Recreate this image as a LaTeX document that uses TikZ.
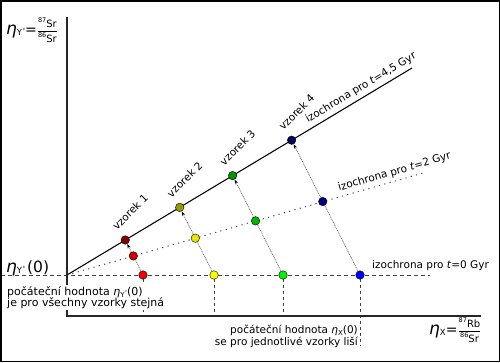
\documentclass[tikz,border=0pt]{standalone}
\usepackage{fontspec}
\setmainfont{DejaVu Sans}
\usetikzlibrary{arrows.meta,calc,backgrounds}
\definecolor{ra}{HTML}{F00000}
\definecolor{rb}{HTML}{D40000}
\definecolor{rc}{HTML}{800000}
\definecolor{ya}{HTML}{FFFF00}
\definecolor{yb}{HTML}{E6E600}
\definecolor{yc}{HTML}{999900}
\definecolor{ga}{HTML}{00F000}
\definecolor{gb}{HTML}{00B400}
\definecolor{gc}{HTML}{009600}
\definecolor{ba}{HTML}{0000FF}
\definecolor{bb}{HTML}{000080}
\definecolor{bc}{HTML}{00005A}
\newcommand\mysub[2][7]{\raisebox{-0.35ex}{\fontsize{#1}{#1}\selectfont #2}}
\newcommand\myprime{\kern0.6pt\raisebox{0.35ex}{\textquotesingle}}
\newcommand\myiso[2]{\hbox{\fontsize{10}{10}\selectfont\raisebox{0.9ex}{\fontsize{6.5}{6.5}\selectfont #1}#2}}
\newcommand\myratio[4]{$\displaystyle\frac{\myiso{#1}{#2}}{\myiso{#3}{#4}}$}
\begin{document}
\begin{tikzpicture}[x=1pt,y=-1pt,
  samp/.style={circle,draw=black,line width=0.4pt,inner sep=0pt,minimum size=8.5pt},
  conn/.style={draw=black!60,line width=0.7pt,dash pattern=on 1pt off 0.8pt,-{Stealth[length=4.5pt,width=3.2pt,black]}},
  vdash/.style={draw=black!75,line width=0.6pt,dash pattern=on 3pt off 3pt},
  body/.style={font=\fontsize{10.5}{11.5}\selectfont,inner sep=0pt},
  lab/.style={body,rotate=45,anchor=south west}]
\useasboundingbox (0,0) rectangle (500,362);
% frame
\draw[line width=1.5pt] (0.75,0.75) rectangle (499.25,361.25);
% coordinates
\coordinate (O) at (67,275);
\coordinate (ytop) at (67,17);
\coordinate (corner) at (67,316);
\coordinate (xend) at (481,316);
\coordinate (e45) at (412,68);
\coordinate (e2) at (423,173);
\coordinate (h0) at (1,275);
\coordinate (h1) at (430,275);
\coordinate (dlow) at (360,346);
\coordinate (a0) at (143,275);
\coordinate (b0) at (214,275);
\coordinate (c0) at (283,275);
\coordinate (d0) at (360,275);
\coordinate (a45) at (125.25,240.0);
\coordinate (b45) at (179.7,207.4);
\coordinate (c45) at (232.6,175.6);
\coordinate (d45) at (291.6,140.2);
% axes
\draw[line width=1.2pt,black!85] (ytop) -- (corner) -- (xend);
% sample points
\node[samp,fill=ra] (A0) at (a0) {};
\node[samp,fill=ya] (B0) at (b0) {};
\node[samp,fill=ga] (C0) at (c0) {};
\node[samp,fill=ba] (D0) at (d0) {};
\node[samp,fill=rb] (A2) at ($(a0)!0.545!(a45)$) {};
\node[samp,fill=yb] (B2) at ($(b0)!0.545!(b45)$) {};
\node[samp,fill=gb] (C2) at ($(c0)!0.545!(c45)$) {};
\node[samp,fill=bb] (D2) at ($(d0)!0.545!(d45)$) {};
\node[samp,fill=rc] (A45) at (a45) {};
\node[samp,fill=yc] (B45) at (b45) {};
\node[samp,fill=gc] (C45) at (c45) {};
\node[samp,fill=bc] (D45) at (d45) {};
% labels
\node[lab] (LA) at ($(a45)+(-8,-9)$) {vzorek 1};
\node[lab] (LB) at ($(b45)+(-8,-9)$) {vzorek 2};
\node[lab] (LC) at ($(c45)+(-8,-9)$) {vzorek 3};
\node[lab] (LD) at ($(d45)+(-8,-9)$) {vzorek 4};
\node[body,anchor=base west] (T0) at (372,268) {izochrona pro \textit{t}=0 Gyr};
\node[body,rotate=16,anchor=base west] (T2) at (339,191) {izochrona pro \textit{t}=2 Gyr};
\node[body,rotate=31,anchor=base west] (T45) at (308,123) {izochrona pro \textit{t}=4,5 Gyr};
\node[anchor=base west,inner sep=0pt] (YL) at (6,34) {{\fontsize{17}{17}\selectfont\itshape η}\mysub[8.5]{Y\myprime}{\fontsize{14}{14}\selectfont=}\myratio{87}{Sr}{86}{Sr}};
\node[anchor=base west,inner sep=0pt] (XL) at (429,334) {{\fontsize{17}{17}\selectfont\itshape η}\mysub[8.5]{X}{\fontsize{14}{14}\selectfont=}\myratio{87}{Rb}{86}{Sr}};
\node[anchor=base west,inner sep=0pt] (Y0) at (6,272) {{\fontsize{17}{17}\selectfont\itshape η}\mysub[8.5]{Y\myprime}\kern2pt{\fontsize{15.5}{15.5}\selectfont(0)}};
\node[body,font=\fontsize{11}{11.5}\selectfont,align=left,anchor=north west,fill=white,inner sep=1pt] (NL) at (6,285) {počáteční hodnota {\itshape η}\mysub{Y\myprime}(0)\\je pro všechny vzorky stejná};
\node[body,align=right,anchor=north east] (NR) at (358,325) {počáteční hodnota {\itshape η}\mysub{X}(0)\\se pro jednotlivé vzorky liší};
\begin{pgfonlayer}{background}
\draw[line width=1.1pt] (O) -- (e45);
\draw[line width=1pt,black!70,dash pattern=on 1.2pt off 4.3pt] (O) -- (e2);
\draw[line width=1pt,black!75,dash pattern=on 4pt off 3pt] (h0) -- (h1);
\draw[vdash] (A0) -- (A0 |- corner);
\draw[vdash] (B0) -- (B0 |- corner);
\draw[vdash] (C0) -- (C0 |- corner);
\draw[vdash] (D0) -- (dlow);
\draw[conn] (A0) -- (A45);
\draw[conn] (B0) -- (B45);
\draw[conn] (C0) -- (C45);
\draw[conn] (D0) -- (D45);
\end{pgfonlayer}
\end{tikzpicture}
\end{document}
